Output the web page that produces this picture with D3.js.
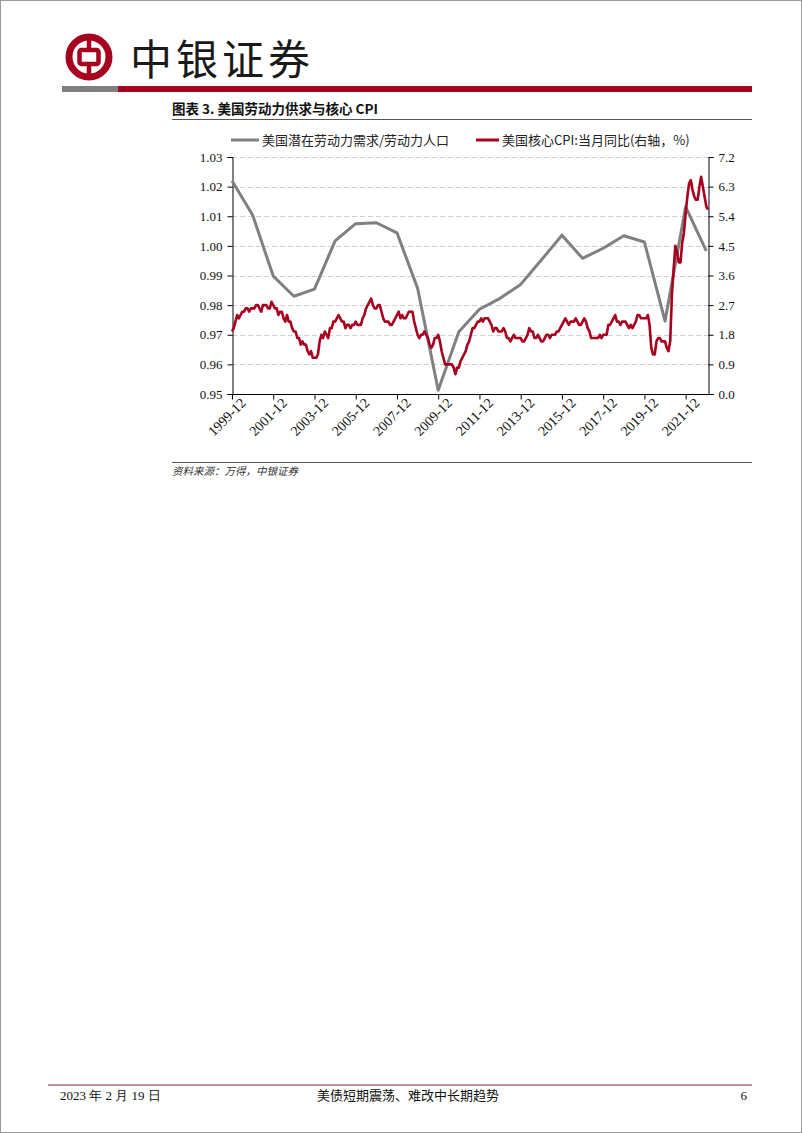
<!DOCTYPE html>
<html><head><meta charset="utf-8">
<script src="https://cdn.jsdelivr.net/npm/d3@7"></script>
<style>
body{margin:0;background:#fff;}
svg{display:block;}
</style></head>
<body>
<svg id="page" width="802" height="1133"></svg>
<script>
// ---------- DATA ----------
const startMonth = "1999-12";
const endMonth = "2023-01";
const xTickLabels = ["1999-12","2001-12","2003-12","2005-12","2007-12","2009-12","2011-12","2013-12","2015-12","2017-12","2019-12","2021-12"];
const leftTicks = [0.95,0.96,0.97,0.98,0.99,1.00,1.01,1.02,1.03];
const rightTicks = [0.0,0.9,1.8,2.7,3.6,4.5,5.4,6.3,7.2];
// Potential labor demand / labor population (annual, December)
const laborMonths = ["1999-12","2000-12","2001-12","2002-12","2003-12","2004-12","2005-12","2006-12","2007-12","2008-12","2009-12","2010-12","2011-12","2012-12","2013-12","2014-12","2015-12","2016-12","2017-12","2018-12","2019-12","2020-12","2021-12","2022-12"];
const laborValues = [1.022,1.0104,0.9898,0.9830,0.9854,1.0017,1.0075,1.0078,1.0044,0.9857,0.9513,0.9710,0.9786,0.9823,0.9870,0.9952,1.0036,0.9958,0.9992,1.0034,1.0013,0.9746,1.0132,0.9983];
// US core CPI YoY (%), monthly from 1999-12 to 2023-01
const coreCPI = [
 1.9,
 2.0,2.2,2.4,2.3,2.4,2.5,2.5,2.6,2.6,2.5,2.6,2.6,
 2.6,2.7,2.7,2.6,2.5,2.7,2.7,2.7,2.6,2.6,2.8,2.7,
 2.6,2.6,2.4,2.5,2.5,2.3,2.2,2.4,2.2,2.2,2.0,1.9,
 1.9,1.7,1.7,1.5,1.6,1.5,1.5,1.3,1.2,1.3,1.1,1.1,
 1.1,1.2,1.6,1.8,1.7,1.9,1.8,1.7,2.0,2.0,2.2,2.2,
 2.3,2.4,2.3,2.2,2.2,2.0,2.1,2.1,2.0,2.1,2.1,2.2,
 2.1,2.1,2.1,2.3,2.4,2.6,2.7,2.8,2.9,2.7,2.6,2.6,
 2.7,2.7,2.5,2.3,2.2,2.2,2.2,2.1,2.1,2.2,2.3,2.4,
 2.5,2.3,2.4,2.3,2.3,2.4,2.5,2.5,2.5,2.2,2.0,1.8,
 1.7,1.8,1.8,1.9,1.8,1.7,1.5,1.4,1.5,1.7,1.7,1.8,
 1.6,1.3,1.1,0.9,0.9,0.9,0.9,0.9,0.8,0.6,0.8,0.8,
 1.0,1.1,1.2,1.3,1.5,1.6,1.8,2.0,2.0,2.1,2.2,2.2,
 2.3,2.2,2.3,2.3,2.3,2.2,2.1,1.9,2.0,2.0,1.9,1.9,
 1.9,2.0,1.9,1.7,1.7,1.6,1.7,1.8,1.7,1.7,1.7,1.7,
 1.6,1.6,1.7,1.8,2.0,1.9,1.9,1.7,1.7,1.8,1.7,1.6,
 1.6,1.7,1.8,1.8,1.7,1.8,1.8,1.8,1.9,1.9,2.0,2.1,
 2.2,2.3,2.2,2.1,2.2,2.2,2.2,2.3,2.2,2.1,2.1,2.2,
 2.3,2.2,2.0,1.9,1.7,1.7,1.7,1.7,1.7,1.8,1.7,1.8,
 1.8,1.8,2.1,2.1,2.2,2.3,2.4,2.2,2.2,2.1,2.2,2.2,
 2.2,2.1,2.0,2.1,2.0,2.1,2.2,2.4,2.4,2.3,2.3,2.3,
 2.3,2.4,2.1,1.4,1.2,1.2,1.6,1.7,1.7,1.6,1.6,1.6,
 1.4,1.3,1.6,3.0,3.8,4.5,4.3,4.0,4.0,4.6,4.9,5.5,
 6.0,6.4,6.5,6.2,6.0,5.9,5.9,6.3,6.6,6.3,6.0,5.7,
 5.6
];
const legendLabels = ["美国潜在劳动力需求/劳动力人口","美国核心CPI:当月同比(右轴，%)"];

// ---------- SETUP ----------
const svg = d3.select("#page");
const serif = "'Liberation Serif','Times New Roman',serif";
const cjk = "'Noto Sans CJK SC','Noto Sans',sans-serif";
const RED = "#a8001f";
const GRAY = "#808080";

const parseM = d3.timeParse("%Y-%m");
const fmtM = d3.timeFormat("%Y-%m");
const months = d3.timeMonth.range(parseM(startMonth), d3.timeMonth.offset(parseM(endMonth),1)).map(fmtM);

// page border
svg.append("rect").attr("x",0.5).attr("y",0.5).attr("width",801).attr("height",1132)
  .attr("fill","none").attr("stroke","#9a9a9a").attr("stroke-width",1);

// ---------- HEADER ----------
const logo = svg.append("g").attr("transform","translate(89,57)");
logo.append("circle").attr("r",20).attr("fill","none").attr("stroke",RED).attr("stroke-width",7);
logo.append("rect").attr("x",-9.5).attr("y",-7).attr("width",19).attr("height",14).attr("rx",2)
  .attr("fill","none").attr("stroke",RED).attr("stroke-width",4.5);
logo.append("line").attr("x1",0).attr("x2",0).attr("y1",-21).attr("y2",-9).attr("stroke",RED).attr("stroke-width",4.5);
logo.append("line").attr("x1",0).attr("x2",0).attr("y1",9).attr("y2",21).attr("stroke",RED).attr("stroke-width",4.5);
svg.append("text").attr("x",130).attr("y",75).attr("font-family",cjk).attr("font-size",42)
  .attr("fill","#1a1a1a").attr("letter-spacing",4).text("中银证券");
svg.append("rect").attr("x",62).attr("y",86).attr("width",56).attr("height",6).attr("fill","#7f7f7f");
svg.append("rect").attr("x",118).attr("y",86).attr("width",634).attr("height",6).attr("fill",RED);

// chart title
svg.append("text").attr("x",172).attr("y",114).attr("font-family",cjk).attr("font-weight","bold")
  .attr("font-size",13.5).attr("fill","#111").text("图表 3. 美国劳动力供求与核心 CPI");
svg.append("line").attr("x1",172).attr("x2",752).attr("y1",119.5).attr("y2",119.5).attr("stroke","#555").attr("stroke-width",1);

// ---------- CHART ----------
const x0 = 232, x1 = 708, yTop = 157, yBot = 394;
const x = d3.scalePoint().domain(months).range([x0,x1]);
const yL = d3.scaleLinear().domain([0.95,1.03]).range([yBot,yTop]);
const yR = d3.scaleLinear().domain([0,7.2]).range([yBot,yTop]);

// grid
svg.append("g").selectAll("line").data(leftTicks.filter(d=>d>0.951)).join("line")
  .attr("x1",x0).attr("x2",x1).attr("y1",d=>Math.round(yL(d))+0.5).attr("y2",d=>Math.round(yL(d))+0.5)
  .attr("stroke","#d0d0d0").attr("stroke-dasharray","5,3").attr("stroke-width",1);

const gL = svg.append("g").attr("transform",`translate(${x0+0.5},0)`)
  .call(d3.axisLeft(yL).tickValues(leftTicks).tickFormat(d3.format(".2f")).tickSizeOuter(0).tickSize(5).tickPadding(5));
const gR = svg.append("g").attr("transform",`translate(${x1+0.5},0)`)
  .call(d3.axisRight(yR).tickValues(rightTicks).tickFormat(d3.format(".1f")).tickSizeOuter(0).tickSize(5).tickPadding(5));
const gB = svg.append("g").attr("transform",`translate(0,${yBot+0.5})`)
  .call(d3.axisBottom(x).tickValues(xTickLabels).tickSizeOuter(0).tickSize(5).tickPadding(4));
gB.select(".domain").attr("d",`M${x0},0H${x1+0.5}`);
[gL,gR,gB].forEach(g=>{
  g.selectAll("text").attr("font-family",serif).attr("font-size",13).attr("fill","#111");
  g.selectAll("line,path").attr("stroke","#000");
});
gB.selectAll("text").attr("font-size",14).attr("text-anchor","end").attr("dx","0.25em").attr("dy","0.55em")
  .attr("transform","rotate(-45)");

// gray line
const laborData = laborMonths.map((m,i)=>({m, v:laborValues[i]}));
svg.append("path").datum(laborData)
  .attr("d",d3.line().x(d=>x(d.m)).y(d=>yL(d.v)))
  .attr("fill","none").attr("stroke",GRAY).attr("stroke-width",3).attr("stroke-linejoin","round");
// red line
const cpiData = months.map((m,i)=>({m, v:coreCPI[i]}));
svg.append("path").datum(cpiData)
  .attr("d",d3.line().x(d=>x(d.m)).y(d=>yR(d.v)))
  .attr("fill","none").attr("stroke",RED).attr("stroke-width",2.6).attr("stroke-linejoin","round");

// legend
const lg = svg.append("g").attr("font-family",cjk).attr("font-size",13).attr("fill","#222");
lg.append("line").attr("x1",231).attr("x2",259).attr("y1",140).attr("y2",140).attr("stroke",GRAY).attr("stroke-width",3);
lg.append("text").attr("x",262).attr("y",144.5).text(legendLabels[0]);
lg.append("line").attr("x1",476).attr("x2",499).attr("y1",140).attr("y2",140).attr("stroke",RED).attr("stroke-width",3);
lg.append("text").attr("x",502).attr("y",144.5).text(legendLabels[1]);

// source
svg.append("line").attr("x1",172).attr("x2",752).attr("y1",462.5).attr("y2",462.5).attr("stroke","#555").attr("stroke-width",1);
svg.append("text").attr("x",172).attr("y",475).attr("font-family",cjk).attr("font-size",10.5)
  .attr("font-style","italic").attr("fill","#333").text("资料来源：万得，中银证券");

// ---------- FOOTER ----------
svg.append("line").attr("x1",48).attr("x2",752).attr("y1",1085).attr("y2",1085).attr("stroke","#8c2545").attr("stroke-width",1.2);
const ft = svg.append("g").attr("font-family",serif).attr("font-size",13).attr("fill","#111");
ft.append("text").attr("x",60).attr("y",1100).text("2023 年 2 月 19 日");
ft.append("text").attr("x",408).attr("y",1100).attr("text-anchor","middle").attr("font-family",cjk).attr("font-size",13).text("美债短期震荡、难改中长期趋势");
ft.append("text").attr("x",747).attr("y",1100).attr("text-anchor","end").text("6");
</script>
</body></html>
